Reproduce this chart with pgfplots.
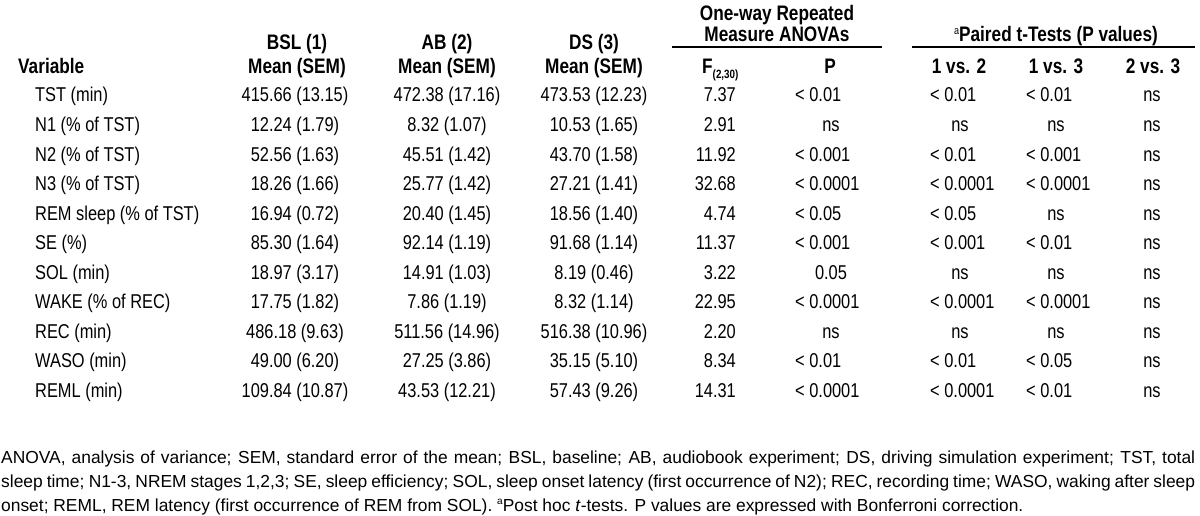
\documentclass[border=0pt]{standalone}
\usepackage{fontspec}
\setmainfont{Liberation Sans}[FakeStretch=0.82]
\newfontfamily\fnfam{Liberation Sans}
\usepackage{pgfplots}
\usepackage{pgfplotstable}
\pgfplotsset{compat=1.18}

\pgfplotstableread[col sep=comma]{
row,var,bsl,ab,ds,F
0,TST (min),415.66 (13.15),472.38 (17.16),473.53 (12.23),7.37
1,N1 (\% of TST),12.24 (1.79),8.32 (1.07),10.53 (1.65),2.91
2,N2 (\% of TST),52.56 (1.63),45.51 (1.42),43.70 (1.58),11.92
3,N3 (\% of TST),18.26 (1.66),25.77 (1.42),27.21 (1.41),32.68
4,REM sleep (\% of TST),16.94 (0.72),20.40 (1.45),18.56 (1.40),4.74
5,SE (\%),85.30 (1.64),92.14 (1.19),91.68 (1.14),11.37
6,SOL (min),18.97 (3.17),14.91 (1.03),8.19 (0.46),3.22
7,WAKE (\% of REC),17.75 (1.82),7.86 (1.19),8.32 (1.14),22.95
8,REC (min),486.18 (9.63),511.56 (14.96),516.38 (10.96),2.20
9,WASO (min),49.00 (6.20),27.25 (3.86),35.15 (5.10),8.34
10,REML (min),109.84 (10.87),43.53 (12.21),57.43 (9.26),14.31
}\maintab

% left-aligned P-value cells: x, row, text
\pgfplotstableread[col sep=comma]{
x,row,t
795,0,< 0.01
795,2,< 0.001
795,3,< 0.0001
795,4,< 0.05
795,5,< 0.001
795,7,< 0.0001
795,9,< 0.01
795,10,< 0.0001
930,0,< 0.01
930,2,< 0.01
930,3,< 0.0001
930,4,< 0.05
930,5,< 0.001
930,7,< 0.0001
930,9,< 0.01
930,10,< 0.0001
1026,0,< 0.01
1026,2,< 0.001
1026,3,< 0.0001
1026,5,< 0.01
1026,7,< 0.0001
1026,9,< 0.05
1026,10,< 0.01
}\lefttab

% centred P-value cells: x, row, text
\pgfplotstableread[col sep=comma]{
x,row,t
831,1,ns
831,6,0.05
831,8,ns
960,1,ns
960,6,ns
960,8,ns
1056,1,ns
1056,4,ns
1056,6,ns
1056,8,ns
1152,0,ns
1152,1,ns
1152,2,ns
1152,3,ns
1152,4,ns
1152,5,ns
1152,6,ns
1152,7,ns
1152,8,ns
1152,9,ns
1152,10,ns
}\centtab

\newcommand\rowfont{\fontsize{20}{22}\selectfont}
\newcommand\hdfont{\fontsize{21}{23}\selectfont\bfseries}
\newcommand\fnfont{\fnfam\fontsize{17.4}{19}\selectfont}

\begin{document}
\begin{tikzpicture}
\begin{axis}[
  width=1200pt, height=516pt, scale only axis,
  xmin=0, xmax=1200, ymin=0, ymax=516, y dir=reverse,
  hide axis, clip=false,
  every node near coord/.append style={font=\rowfont, inner sep=0pt, text=black},
]
% row labels
\addplot[draw=none, mark=none, nodes near coords, point meta=explicit symbolic,
  every node near coord/.append style={anchor=base west}]
  table[x expr=35, y expr=102+29.5*\thisrow{row}, meta=var] {\maintab};
% mean columns
\addplot[draw=none, mark=none, nodes near coords, point meta=explicit symbolic,
  every node near coord/.append style={anchor=base}]
  table[x expr=295, y expr=102+29.5*\thisrow{row}, meta=bsl] {\maintab};
\addplot[draw=none, mark=none, nodes near coords, point meta=explicit symbolic,
  every node near coord/.append style={anchor=base}]
  table[x expr=447, y expr=102+29.5*\thisrow{row}, meta=ab] {\maintab};
\addplot[draw=none, mark=none, nodes near coords, point meta=explicit symbolic,
  every node near coord/.append style={anchor=base}]
  table[x expr=594, y expr=102+29.5*\thisrow{row}, meta=ds] {\maintab};
% F column
\addplot[draw=none, mark=none, nodes near coords, point meta=explicit symbolic,
  every node near coord/.append style={anchor=base east}]
  table[x expr=736, y expr=102+29.5*\thisrow{row}, meta=F] {\maintab};
% P-value cells
\addplot[draw=none, mark=none, nodes near coords, point meta=explicit symbolic,
  every node near coord/.append style={anchor=base west}]
  table[x=x, y expr=102+29.5*\thisrow{row}, meta=t] {\lefttab};
\addplot[draw=none, mark=none, nodes near coords, point meta=explicit symbolic,
  every node near coord/.append style={anchor=base}]
  table[x=x, y expr=102+29.5*\thisrow{row}, meta=t] {\centtab};

% headers
\node[anchor=base west, inner sep=0pt, font=\hdfont] at (18,74) {Variable};
\node[anchor=base, inner sep=0pt, font=\hdfont] at (297,50) {BSL (1)};
\node[anchor=base, inner sep=0pt, font=\hdfont] at (297,74) {Mean (SEM)};
\node[anchor=base, inner sep=0pt, font=\hdfont] at (447,50) {AB (2)};
\node[anchor=base, inner sep=0pt, font=\hdfont] at (447,74) {Mean (SEM)};
\node[anchor=base, inner sep=0pt, font=\hdfont] at (594,50) {DS (3)};
\node[anchor=base, inner sep=0pt, font=\hdfont] at (594,74) {Mean (SEM)};
\node[anchor=base, inner sep=0pt, font=\hdfont] at (777,21) {One-way Repeated};
\node[anchor=base, inner sep=0pt, font=\hdfont] at (777,42) {Measure ANOVAs};
\draw[line width=1.3pt] (672,47) -- (882,47);
\node[anchor=base west, inner sep=0pt, font=\hdfont] at (702,74) {F\raisebox{-0.45ex}{\fontsize{12}{12}\selectfont(2,30)}};
\node[anchor=base, inner sep=0pt, font=\hdfont] at (830,74) {P};
\node[anchor=base, inner sep=0pt, font=\hdfont] at (1056,42) {\raisebox{0.7ex}{\fontsize{11}{11}\selectfont\mdseries a}Paired t-Tests (P values)};
\draw[line width=1.3pt] (912,47) -- (1195,47);
\node[anchor=base, inner sep=0pt, font=\hdfont] at (959,74) {1 vs. 2};
\node[anchor=base, inner sep=0pt, font=\hdfont] at (1056,74) {1 vs. 3};
\node[anchor=base, inner sep=0pt, font=\hdfont] at (1153,74) {2 vs. 3};

% footnote
\node[anchor=base west, inner sep=0pt, font=\fnfont] at (1,463) {\makebox[1194pt][s]{ANOVA, analysis of variance; SEM, standard error of the mean; BSL, baseline; AB, audiobook experiment; DS, driving simulation experiment; TST, total}};
\node[anchor=base west, inner sep=0pt, font=\fnfont] at (1,487) {\makebox[1194pt][s]{sleep time; N1-3, NREM stages 1,2,3; SE, sleep efficiency; SOL, sleep onset latency (first occurrence of N2); REC, recording time; WASO, waking after sleep}};
\node[anchor=base west, inner sep=0pt, font=\fnfont] at (1,511) {onset; REML, REM latency (first occurrence of REM from SOL). \raisebox{0.7ex}{\fontsize{10}{10}\selectfont a}Post hoc \textit{t}-tests. P values are expressed with Bonferroni correction.};
\end{axis}
\pgfresetboundingbox
\useasboundingbox (current axis.south west) rectangle (current axis.north east);
\end{tikzpicture}
\end{document}
